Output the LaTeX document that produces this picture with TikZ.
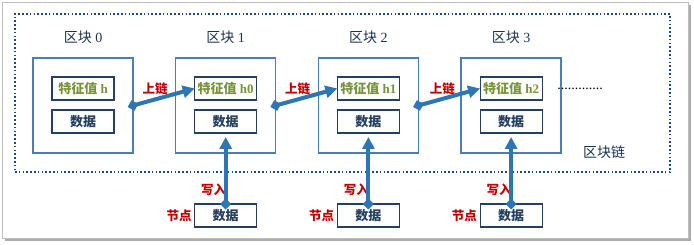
\documentclass[tikz,border=0pt]{standalone}
\usepackage{fontspec}
\setmainfont{Liberation Serif}
\newfontfamily\cjk{Noto Sans CJK SC}
\usetikzlibrary{positioning,arrows.meta}

\definecolor{blkblue}{HTML}{4A7EBB}
\definecolor{innernavy}{HTML}{254061}
\definecolor{arrowblue}{HTML}{2E75B6}
\definecolor{linkred}{HTML}{C00000}
\definecolor{featgreen}{HTML}{77933C}
\definecolor{dotnavy}{HTML}{1F497D}
\definecolor{titlenavy}{HTML}{1F3350}

\begin{document}
\begin{tikzpicture}[
    x=1pt, y=-1pt,
    chainframe/.style={rectangle, draw=dotnavy, line width=1.8pt, dash pattern=on 1.6pt off 2.2pt, minimum width=655pt, minimum height=158pt, outer sep=0pt},
    block/.style={rectangle, draw=blkblue, line width=1.3pt, minimum width=100pt, minimum height=95pt, outer sep=0pt},
    featbox/.style={rectangle, draw=innernavy, line width=1.2pt, minimum width=62pt, minimum height=23pt, inner sep=0pt, outer sep=0pt, text=featgreen, font=\fontsize{13}{14}\selectfont\bfseries},
    databox/.style={featbox, text=innernavy, font=\fontsize{13}{14}\cjk\bfseries},
    title/.style={inner sep=0pt, text=titlenavy, font=\fontsize{14}{15}\selectfont},
    lbl/.style={inner sep=0pt, text=linkred, font=\fontsize{12.5}{13}\cjk\bfseries},
    chainarrow/.style={draw=arrowblue, line width=4pt, {Diamond[length=11pt,width=11pt]}-{Triangle[length=12pt,width=12pt]}, shorten <=-5.5pt},
    writearrow/.style={chainarrow, shorten >=4pt},
]
    \useasboundingbox (0,0) rectangle (694,245);

    % Outer frame with shadow
    \fill[gray!65] (5,5) rectangle (691,241);
    \draw[gray!50, fill=white, line width=0.8pt] (2,2) rectangle (688,238);

    % Blockchain frame
    \node[chainframe] (chain) at (342.5,93) {};
    \node[title, font=\fontsize{14}{15}\cjk] (chainlbl) at ([xshift=-66pt,yshift=20pt]chain.south east) {区块链};

    % Blocks
    \node[block] (blk0) at (83,105.5) {};
    \node[block, right=42.7pt of blk0] (blk1) {};
    \node[block, right=42.7pt of blk1] (blk2) {};
    \node[block, right=42.7pt of blk2] (blk3) {};

    \node[title, above=14pt of blk0] (ttl0) {{\cjk 区块} 0};
    \node[title, above=14pt of blk1] (ttl1) {{\cjk 区块} 1};
    \node[title, above=14pt of blk2] (ttl2) {{\cjk 区块} 2};
    \node[title, above=14pt of blk3] (ttl3) {{\cjk 区块} 3};

    \node[featbox, above=5.5pt of blk0.center] (feat0) {{\cjk 特征值} h};
    \node[featbox, above=5.5pt of blk1.center] (feat1) {{\cjk 特征值} h0};
    \node[featbox, above=5.5pt of blk2.center] (feat2) {{\cjk 特征值} h1};
    \node[featbox, above=5.5pt of blk3.center] (feat3) {{\cjk 特征值} h2};

    \node[databox, below=4.5pt of blk0.center] (data0) {数据};
    \node[databox, below=4.5pt of blk1.center] (data1) {数据};
    \node[databox, below=4.5pt of blk2.center] (data2) {数据};
    \node[databox, below=4.5pt of blk3.center] (data3) {数据};

    \node[inner sep=0pt, font=\fontsize{14}{14}\selectfont, right=15pt of feat3] (more) {.............};

    % Chain links
    \node[lbl] (link1) at ([xshift=22pt,yshift=17pt]blk0.east) {上链};
    \node[lbl] (link2) at ([xshift=22pt,yshift=17pt]blk1.east) {上链};
    \node[lbl] (link3) at ([xshift=24pt,yshift=17pt]blk2.east) {上链};
    \draw[chainarrow] (blk0.east) -- (feat1.west);
    \draw[chainarrow] (blk1.east) -- (feat2.west);
    \draw[chainarrow] (blk2.east) -- (feat3.west);

    % Nodes writing data
    \node[databox, below=71pt of data1] (src1) {数据};
    \node[databox, below=71pt of data2] (src2) {数据};
    \node[databox, below=71pt of data3] (src3) {数据};

    \node[lbl, left=3pt of src1] (peer1) {节点};
    \node[lbl, left=3pt of src2] (peer2) {节点};
    \node[lbl, left=3pt of src3] (peer3) {节点};

    \node[lbl] (write1) at ([xshift=-12pt,yshift=14pt]src1.north) {写入};
    \node[lbl] (write2) at ([xshift=-12pt,yshift=14pt]src2.north) {写入};
    \node[lbl] (write3) at ([xshift=-12pt,yshift=14pt]src3.north) {写入};

    \draw[writearrow] (src1.north) -- (data1.south);
    \draw[writearrow] (src2.north) -- (data2.south);
    \draw[writearrow] (src3.north) -- (data3.south);
\end{tikzpicture}
\end{document}
